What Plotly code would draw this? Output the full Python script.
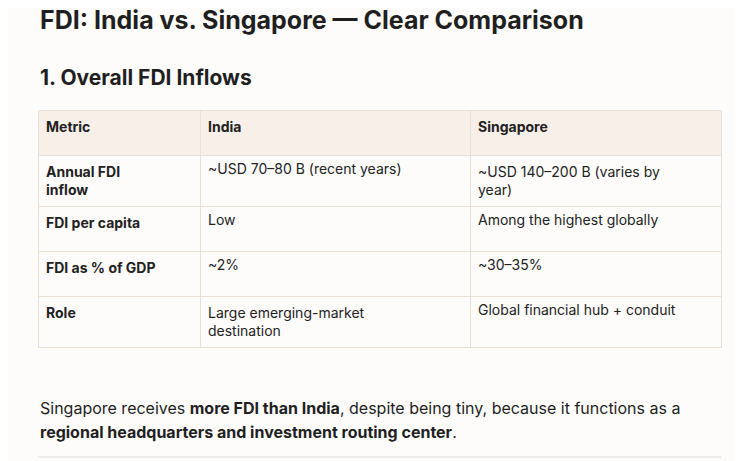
import plotly.graph_objects as go

W, H = 743, 461
header = ["Metric", "India", "Singapore"]
metrics = ["Annual FDI<br>inflow", "FDI per capita", "FDI as % of GDP", "Role"]
india = ["~USD 70–80 B (recent years)", "Low", "~2%", "Large emerging-market<br>destination"]
singapore = ["~USD 140–200 B (varies by<br>year)", "Among the highest globally", "~30–35%", "Global financial hub + conduit"]

font = "Inter, Lato, sans-serif"
OX, OY = -8, -8  # page offset compensation
def px(x): return (x + OX) / W
def py(y): return 1 - (y + OY) / H

fig = go.Figure(go.Table(
    domain=dict(x=[px(38), px(721)], y=[py(400), py(110)]),
    columnwidth=[162, 270, 251],
    header=dict(values=[f"<b>{h}</b>" for h in header], align="left", height=45,
                fill_color="#f7efe8", line_color="#eadfd6",
                font=dict(family=font, size=14, color="#222")),
    cells=dict(values=[[f"<b>{m}</b>" for m in metrics], india, singapore],
               align="left", height=45, fill_color="#fdfcfb", line_color="#eadfd6",
               font=dict(family=font, size=14, color="#222")),
))
fig.add_annotation(x=px(38), y=py(20), xref="paper", yref="paper", xanchor="left", yanchor="middle",
                   text="<b>FDI: India vs. Singapore — Clear Comparison</b>", showarrow=False,
                   font=dict(family=font, size=25, color="#1f1f1f"))
fig.add_annotation(x=px(38), y=py(78), xref="paper", yref="paper", xanchor="left", yanchor="middle",
                   text="<b>1. Overall FDI Inflows</b>", showarrow=False,
                   font=dict(family=font, size=21, color="#1f1f1f"))
fig.add_annotation(x=px(38), y=py(408), xref="paper", yref="paper", xanchor="left", yanchor="middle",
                   text="Singapore receives <b>more FDI than India</b>, despite being tiny, because it functions as a",
                   showarrow=False, font=dict(family=font, size=16, color="#1f1f1f"))
fig.add_annotation(x=px(38), y=py(432), xref="paper", yref="paper", xanchor="left", yanchor="middle",
                   text="<b>regional headquarters and investment routing center</b>.",
                   showarrow=False, font=dict(family=font, size=16, color="#1f1f1f"))
fig.add_shape(type="line", xref="paper", yref="paper", x0=px(38), x1=px(721), y0=py(457), y1=py(457),
              line=dict(color="#e5ddd6", width=1))
fig.update_layout(width=W, height=H, margin=dict(l=0, r=0, t=0, b=0),
                  paper_bgcolor="#fdfcfb", plot_bgcolor="#fdfcfb")
fig.write_html("out.html")
